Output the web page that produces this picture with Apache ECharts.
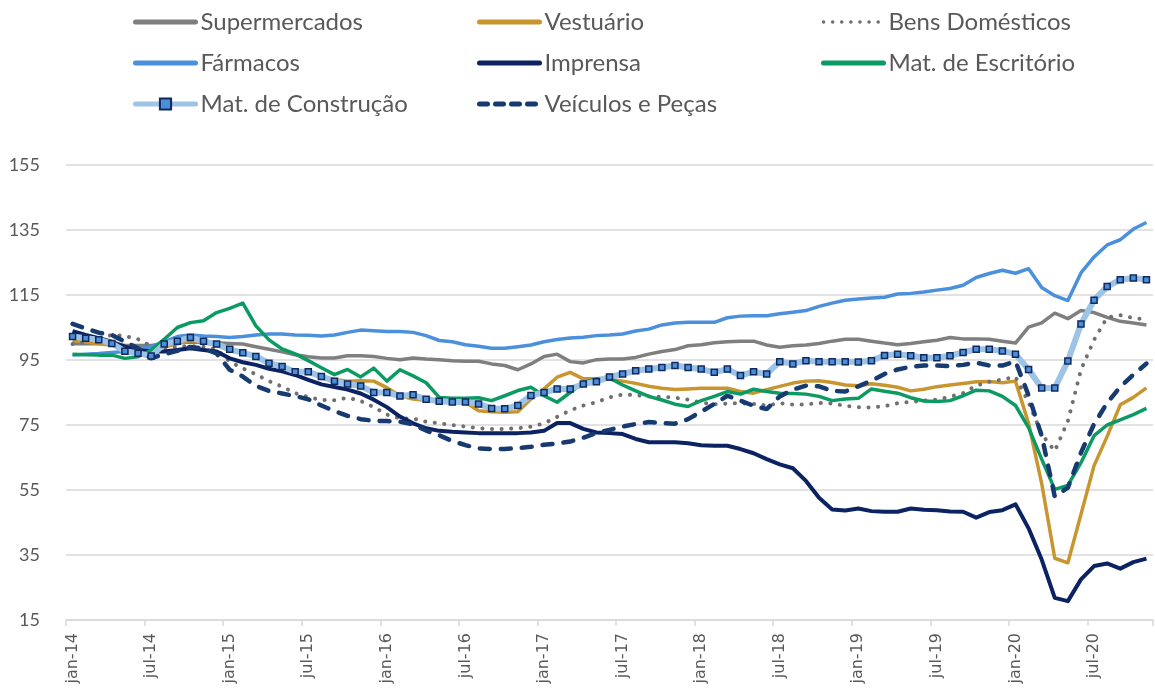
<!DOCTYPE html>
<html>
<head>
<meta charset="utf-8">
<script src="https://cdn.jsdelivr.net/npm/echarts@6/dist/echarts.min.js"></script>
<style>
html,body{margin:0;padding:0;background:#fff;}
#chart{width:1155px;height:689px;}
</style>
</head>
<body>
<div id="chart"></div>
<script>
const categories = [
'jan-14','fev-14','mar-14','abr-14','mai-14','jun-14','jul-14','ago-14','set-14','out-14','nov-14','dez-14',
'jan-15','fev-15','mar-15','abr-15','mai-15','jun-15','jul-15','ago-15','set-15','out-15','nov-15','dez-15',
'jan-16','fev-16','mar-16','abr-16','mai-16','jun-16','jul-16','ago-16','set-16','out-16','nov-16','dez-16',
'jan-17','fev-17','mar-17','abr-17','mai-17','jun-17','jul-17','ago-17','set-17','out-17','nov-17','dez-17',
'jan-18','fev-18','mar-18','abr-18','mai-18','jun-18','jul-18','ago-18','set-18','out-18','nov-18','dez-18',
'jan-19','fev-19','mar-19','abr-19','mai-19','jun-19','jul-19','ago-19','set-19','out-19','nov-19','dez-19',
'jan-20','fev-20','mar-20','abr-20','mai-20','jun-20','jul-20','ago-20','set-20','out-20','nov-20'
];

const supermercados = [
100,100,100,100,99.5,99.5,99.5,100,100.5,100.5,100.5,100.3,
100.1,99.9,99.1,98.3,97.5,96.6,96,95.6,95.6,96.3,96.3,96.1,
95.5,95.1,95.6,95.3,95.1,94.8,94.6,94.6,93.8,93.3,92,93.8,
96.1,96.8,94.5,94.1,95.1,95.3,95.3,95.8,96.8,97.6,98.2,99.4,
99.7,100.3,100.6,100.8,100.8,99.6,98.9,99.4,99.6,100.1,100.8,101.4,
101.4,100.8,100.2,99.7,100.1,100.6,101.1,101.9,101.5,101.5,101.4,100.8,
100.2,105.1,106.4,109.4,107.7,110.2,109.6,108.1,106.9,106.4,105.8
];

const vestuario = [
101,100.5,100,99.5,99,98.5,98,99,100,101,100.3,99.5,
98,97,96,93.8,93,91.3,91.2,89.8,89,88.5,88.6,88.5,
86.5,84,83,82.5,83,82.2,82,79.4,79.1,78.9,79.1,83,
86.1,89.7,91.2,89.2,89.2,89.1,88.5,87.8,86.9,86.3,85.9,86.1,
86.3,86.3,86.3,85.3,84.8,85.9,86.9,87.9,88.5,88.6,88.1,87.3,
87.1,87.7,87.2,86.6,85.5,86,86.8,87.3,87.8,88.3,88.4,88,
88.5,75.5,57,34,32.6,47.5,62.5,71.5,81.2,83.5,86.4
];

const bensDomesticos = [
99.9,100.6,101.7,102.7,102.4,101.4,99.3,98.6,99.1,99.3,99.1,98.3,
94.5,92.4,90.6,88.5,86.8,84.8,83.6,82.7,82.6,83.4,82.4,80.5,
78.2,77,77,76,75.5,75,74.5,74,73.8,73.8,74,74.5,
75.5,77.5,79.5,81,82,83.5,84.4,84.2,83.8,83.7,83.4,82.8,
81.9,81.4,81.6,81.7,81.5,81,81.7,81.3,81.3,81.8,81.6,80.9,
80.5,80.4,80.8,81.7,82.1,82.5,82.8,83.7,84.8,87.1,88.3,89,
89.8,82,72.2,67,76.2,92,101.2,108.1,108.8,107.9,107.5
];

const farmacos = [
96.5,96.8,97,97.3,97.6,98.3,99.1,100.6,102.2,102.7,102.4,102.2,
101.9,102.2,102.7,103,103,102.7,102.6,102.4,102.7,103.5,104.2,104,
103.8,103.8,103.5,102.5,101,100.6,99.7,99.2,98.6,98.6,99.1,99.6,
100.6,101.3,101.8,102,102.5,102.7,103,103.9,104.5,105.8,106.4,106.6,
106.6,106.6,108,108.5,108.6,108.6,109.2,109.7,110.2,111.5,112.5,113.4,
113.8,114.1,114.3,115.3,115.5,115.9,116.5,117,118,120.4,121.6,122.6,
121.7,123.1,117.3,114.8,113.3,121.8,126.7,130.4,132,135.3,137.3
];

const imprensa = [
103.9,102.7,101.7,100.6,99.1,98.1,97.6,97.6,98.1,98.6,98.1,97.6,
95.5,94.3,93.5,92.3,91.5,90.4,88.9,87.5,86.7,85.9,84.7,82.8,
80.5,77.6,75.5,74,73.2,72.9,72.7,72.5,72.5,72.5,72.5,72.7,
73.2,75.6,75.6,73.8,72.7,72.5,72.2,70.7,69.7,69.7,69.7,69.4,
68.8,68.6,68.6,67.6,66.3,64.5,62.9,61.7,57.8,52.6,49,48.7,
49.3,48.5,48.3,48.3,49.3,48.9,48.8,48.4,48.3,46.5,48.2,48.8,
50.6,43.2,33.6,21.8,20.8,27.5,31.6,32.4,30.8,32.8,33.9
];

const matEscritorio = [
96.8,96.6,96.5,96.5,95.5,96,98,101.4,105,106.5,107.1,109.6,
110.9,112.5,105.5,101.2,98.4,96.9,94.8,92.6,90.5,92.1,89.8,92.5,
88.5,92,90.1,88,83.5,83.2,83.2,83.4,82.5,84,85.6,86.6,
84,82,85,88.1,89.2,89.5,87.3,85.5,83.8,82.7,81.4,80.7,
82.5,83.8,85.3,84.5,86,85.3,84.8,84.7,84.5,83.8,82.5,83,
83.2,86.1,85.4,84.8,83.4,82.4,82.2,82.5,84,85.7,85.5,83.8,
81,74.2,64.5,55.2,56.4,63.4,71.7,75,76.6,78.2,80.1
];

const matConstrucao = [
102.2,101.7,101.2,100.1,97.7,97.1,96.2,99.9,100.8,101.9,100.8,99.9,
98.3,97.2,96.1,94,93,91.4,91.4,89.9,88.5,87.6,87,85,
85,83.9,84.3,82.9,82.3,82.1,82.1,81.5,80.1,80,81,84.1,
85,86.1,86.1,87.6,88.3,89.8,90.7,91.7,92.2,92.7,93.3,92.7,
92.2,91.2,92.2,90.2,91.4,90.7,94.5,93.8,94.8,94.5,94.5,94.5,
94.4,94.8,96.4,96.8,96.3,95.7,95.7,96.3,97.3,98.3,98.3,97.8,
96.8,92.1,86.4,86.4,94.7,106.1,113.4,117.6,119.7,120.2,119.7
];

const veiculos = [
106.1,104.7,103.4,102.7,100.6,98.6,95.5,96.8,97.8,99,98.5,97,
92,89.9,87,85.5,84.7,83.9,82.9,81,79.3,77.8,76.8,76.3,
76.2,76,75.2,73.3,71.8,70.1,68.8,67.8,67.6,67.6,67.9,68.3,
68.9,69.3,69.9,71.1,72.5,73.5,74.5,75.3,75.9,75.6,75.4,76.8,
79.1,81.5,84,82.5,80.9,79.9,83.8,85.9,87.1,86.9,85.5,85.3,
86.9,88.6,90.7,92.1,92.9,93.3,93.3,93.1,93.5,94.2,93.3,93.3,
94.6,84.1,71.7,53,55.7,66.5,75.3,81.8,86.7,90.5,93.9
];

const yTicks = {min: 15, max: 155, interval: 20};

const chart = echarts.init(document.getElementById('chart'));
const txt = '#595959';
const legendText = {color: txt, fontFamily: 'Lato', fontSize: 24, lineHeight: 24};

function line(name, data, color, width, extra) {
  return Object.assign({
    name: name, type: 'line', data: data, symbol: 'none', smooth: false,
    lineStyle: {color: color, width: width, cap: 'butt', join: 'round'},
    itemStyle: {color: color},
    emphasis: {disabled: true},
    animation: false
  }, extra || {});
}

const hideSym = {opacity: 0};
function legItem(name, lineStyle, itemStyle) {
  return {name: name, lineStyle: lineStyle, itemStyle: itemStyle || hideSym};
}

const legendBase = {
  orient: 'vertical', itemWidth: 60, itemHeight: 14, itemGap: 17,
  textStyle: legendText, selectedMode: false, padding: 0
};

chart.setOption({
  backgroundColor: '#ffffff',
  animation: false,
  legend: [
    Object.assign({left: 133, top: 10, data: [
      legItem('Supermercados', {width: 5, cap: 'round'}),
      legItem('Fármacos', {width: 5, cap: 'round'}),
      legItem('Mat. de Construção', {width: 5, cap: 'round'}, {opacity: 1})
    ]}, legendBase),
    Object.assign({left: 477, top: 10, data: [
      legItem('Vestuário', {width: 5, cap: 'round'}),
      legItem('Imprensa', {width: 5, cap: 'round'}),
      legItem('Veículos e Peças', {width: 5, type: [8, 8], cap: 'round'})
    ]}, legendBase),
    Object.assign({left: 821, top: 10, data: [
      legItem('Bens Domésticos', {width: 3.5, type: [0.1, 9], cap: 'round'}),
      legItem('Mat. de Escritório', {width: 5, cap: 'round'})
    ]}, legendBase)
  ],
  grid: {left: 66, right: 2, top: 165, bottom: 69, containLabel: false},
  xAxis: {
    type: 'category', data: categories, boundaryGap: true,
    axisLine: {lineStyle: {color: '#d9d9d9', width: 1.5}},
    axisTick: {show: true, interval: 5, length: 6, lineStyle: {color: '#d9d9d9', width: 1.5}},
    axisLabel: {interval: 5, rotate: 90, margin: 13, color: txt, fontFamily: 'DejaVu Sans', fontSize: 16},
    splitLine: {show: false}
  },
  yAxis: {
    type: 'value', min: yTicks.min, max: yTicks.max, interval: yTicks.interval,
    axisLine: {show: false}, axisTick: {show: false},
    axisLabel: {color: txt, fontFamily: 'Lato', fontSize: 18, margin: 26},
    splitLine: {lineStyle: {color: '#d9d9d9', width: 1.5}}
  },
  series: [
    line('Supermercados', supermercados, '#7f7f7f', 3.5),
    line('Vestuário', vestuario, '#c8952f', 3.5),
    line('Bens Domésticos', bensDomesticos, '#707070', 4, {
      lineStyle: {color: '#707070', width: 4, type: [0.1, 9.5], cap: 'round'}
    }),
    line('Fármacos', farmacos, '#4a90dc', 3.5),
    line('Imprensa', imprensa, '#0b2263', 4),
    line('Mat. de Escritório', matEscritorio, '#0b9b62', 3.5),
    line('Mat. de Construção', matConstrucao, '#9dc3e6', 6, {
      symbol: 'rect', symbolSize: 6, showSymbol: true,
      itemStyle: {color: '#4a8fdc', borderColor: '#13295a', borderWidth: 1.5}
    }),
    line('Veículos e Peças', veiculos, '#173a70', 4.5, {
      lineStyle: {color: '#173a70', width: 4.5, type: [10, 11], cap: 'round'}
    })
  ]
});
</script>
</body>
</html>
